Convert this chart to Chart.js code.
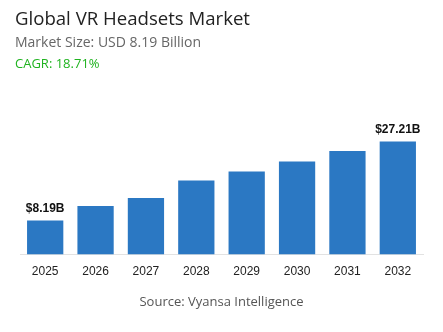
<!DOCTYPE html>
<html>
<head>
<meta charset="utf-8">
<script src="https://cdn.jsdelivr.net/npm/chart.js@4"></script>
<style>
  html, body { margin: 0; padding: 0; background: #fff; }
  #wrap { position: relative; width: 443px; height: 332px; overflow: hidden; }
  #chart { position: absolute; left: 0; top: 0; }
  .txt { position: absolute; left: 15px; white-space: nowrap; font-family: "Open Sans", sans-serif; line-height: 1; }
  #title { top: 9px; font-size: 18.6px; color: #222; font-weight: 500; }
  #sub { top: 35px; font-size: 14px; color: #666; }
  #cagr { top: 57px; font-size: 13px; color: #1fb31f; }
  #src { top: 295px; left: 0; width: 443px; text-align: center; font-size: 13px; color: #555; }
</style>
</head>
<body>
<div id="wrap">
  <canvas id="chart" width="443" height="332"></canvas>
  <div class="txt" id="title">Global VR Headsets Market</div>
  <div class="txt" id="sub">Market Size: USD 8.19 Billion</div>
  <div class="txt" id="cagr">CAGR: 18.71%</div>
  <div class="txt" id="src">Source: Vyansa Intelligence</div>
</div>
<script>
var years = ['2025', '2026', '2027', '2028', '2029', '2030', '2031', '2032'];
var values = [8.19, 11.7, 13.6, 17.8, 20.0, 22.4, 24.9, 27.21];
var labelText = ['$8.19B', '', '', '', '', '', '', '$27.21B'];

// labels above first and last bar
var barLabels = {
	id: 'barLabels',
	afterDatasetsDraw: function(chart) {
		var ctx = chart.ctx;
		var meta = chart.getDatasetMeta(0);
		ctx.save();
		ctx.font = 'bold 12px "Liberation Sans", Arial, sans-serif';
		ctx.fillStyle = '#111';
		ctx.textAlign = 'center';
		ctx.textBaseline = 'alphabetic';
		meta.data.forEach(function(bar, i) {
			if (labelText[i]) ctx.fillText(labelText[i], bar.x, bar.y - 9);
		});
		ctx.restore();
	}
};

var ctx = document.getElementById('chart').getContext('2d');
var chart = new Chart(ctx, {
	type: 'bar',
	data: {
		labels: years,
		datasets: [{
			data: values,
			backgroundColor: '#2b78c3',
			borderWidth: 0,
			categoryPercentage: 0.72,
			barPercentage: 1,
		}]
	},
	options: {
		responsive: false,
		animation: false,
		layout: { padding: { left: 20, right: 20, top: 100, bottom: 43 } },
		plugins: { legend: { display: false }, tooltip: { enabled: false } },
		scales: {
			y: { display: false, min: 0, max: 37.2 },
			x: {
				grid: { display: false, drawTicks: false },
				border: { display: true, color: '#e2e2e2', width: 1 },
				ticks: {
					color: '#222',
					padding: 10,
					font: { family: '"Liberation Sans", Arial, sans-serif', size: 12 }
				}
			}
		}
	},
	plugins: [barLabels]
});
</script>
</body>
</html>
